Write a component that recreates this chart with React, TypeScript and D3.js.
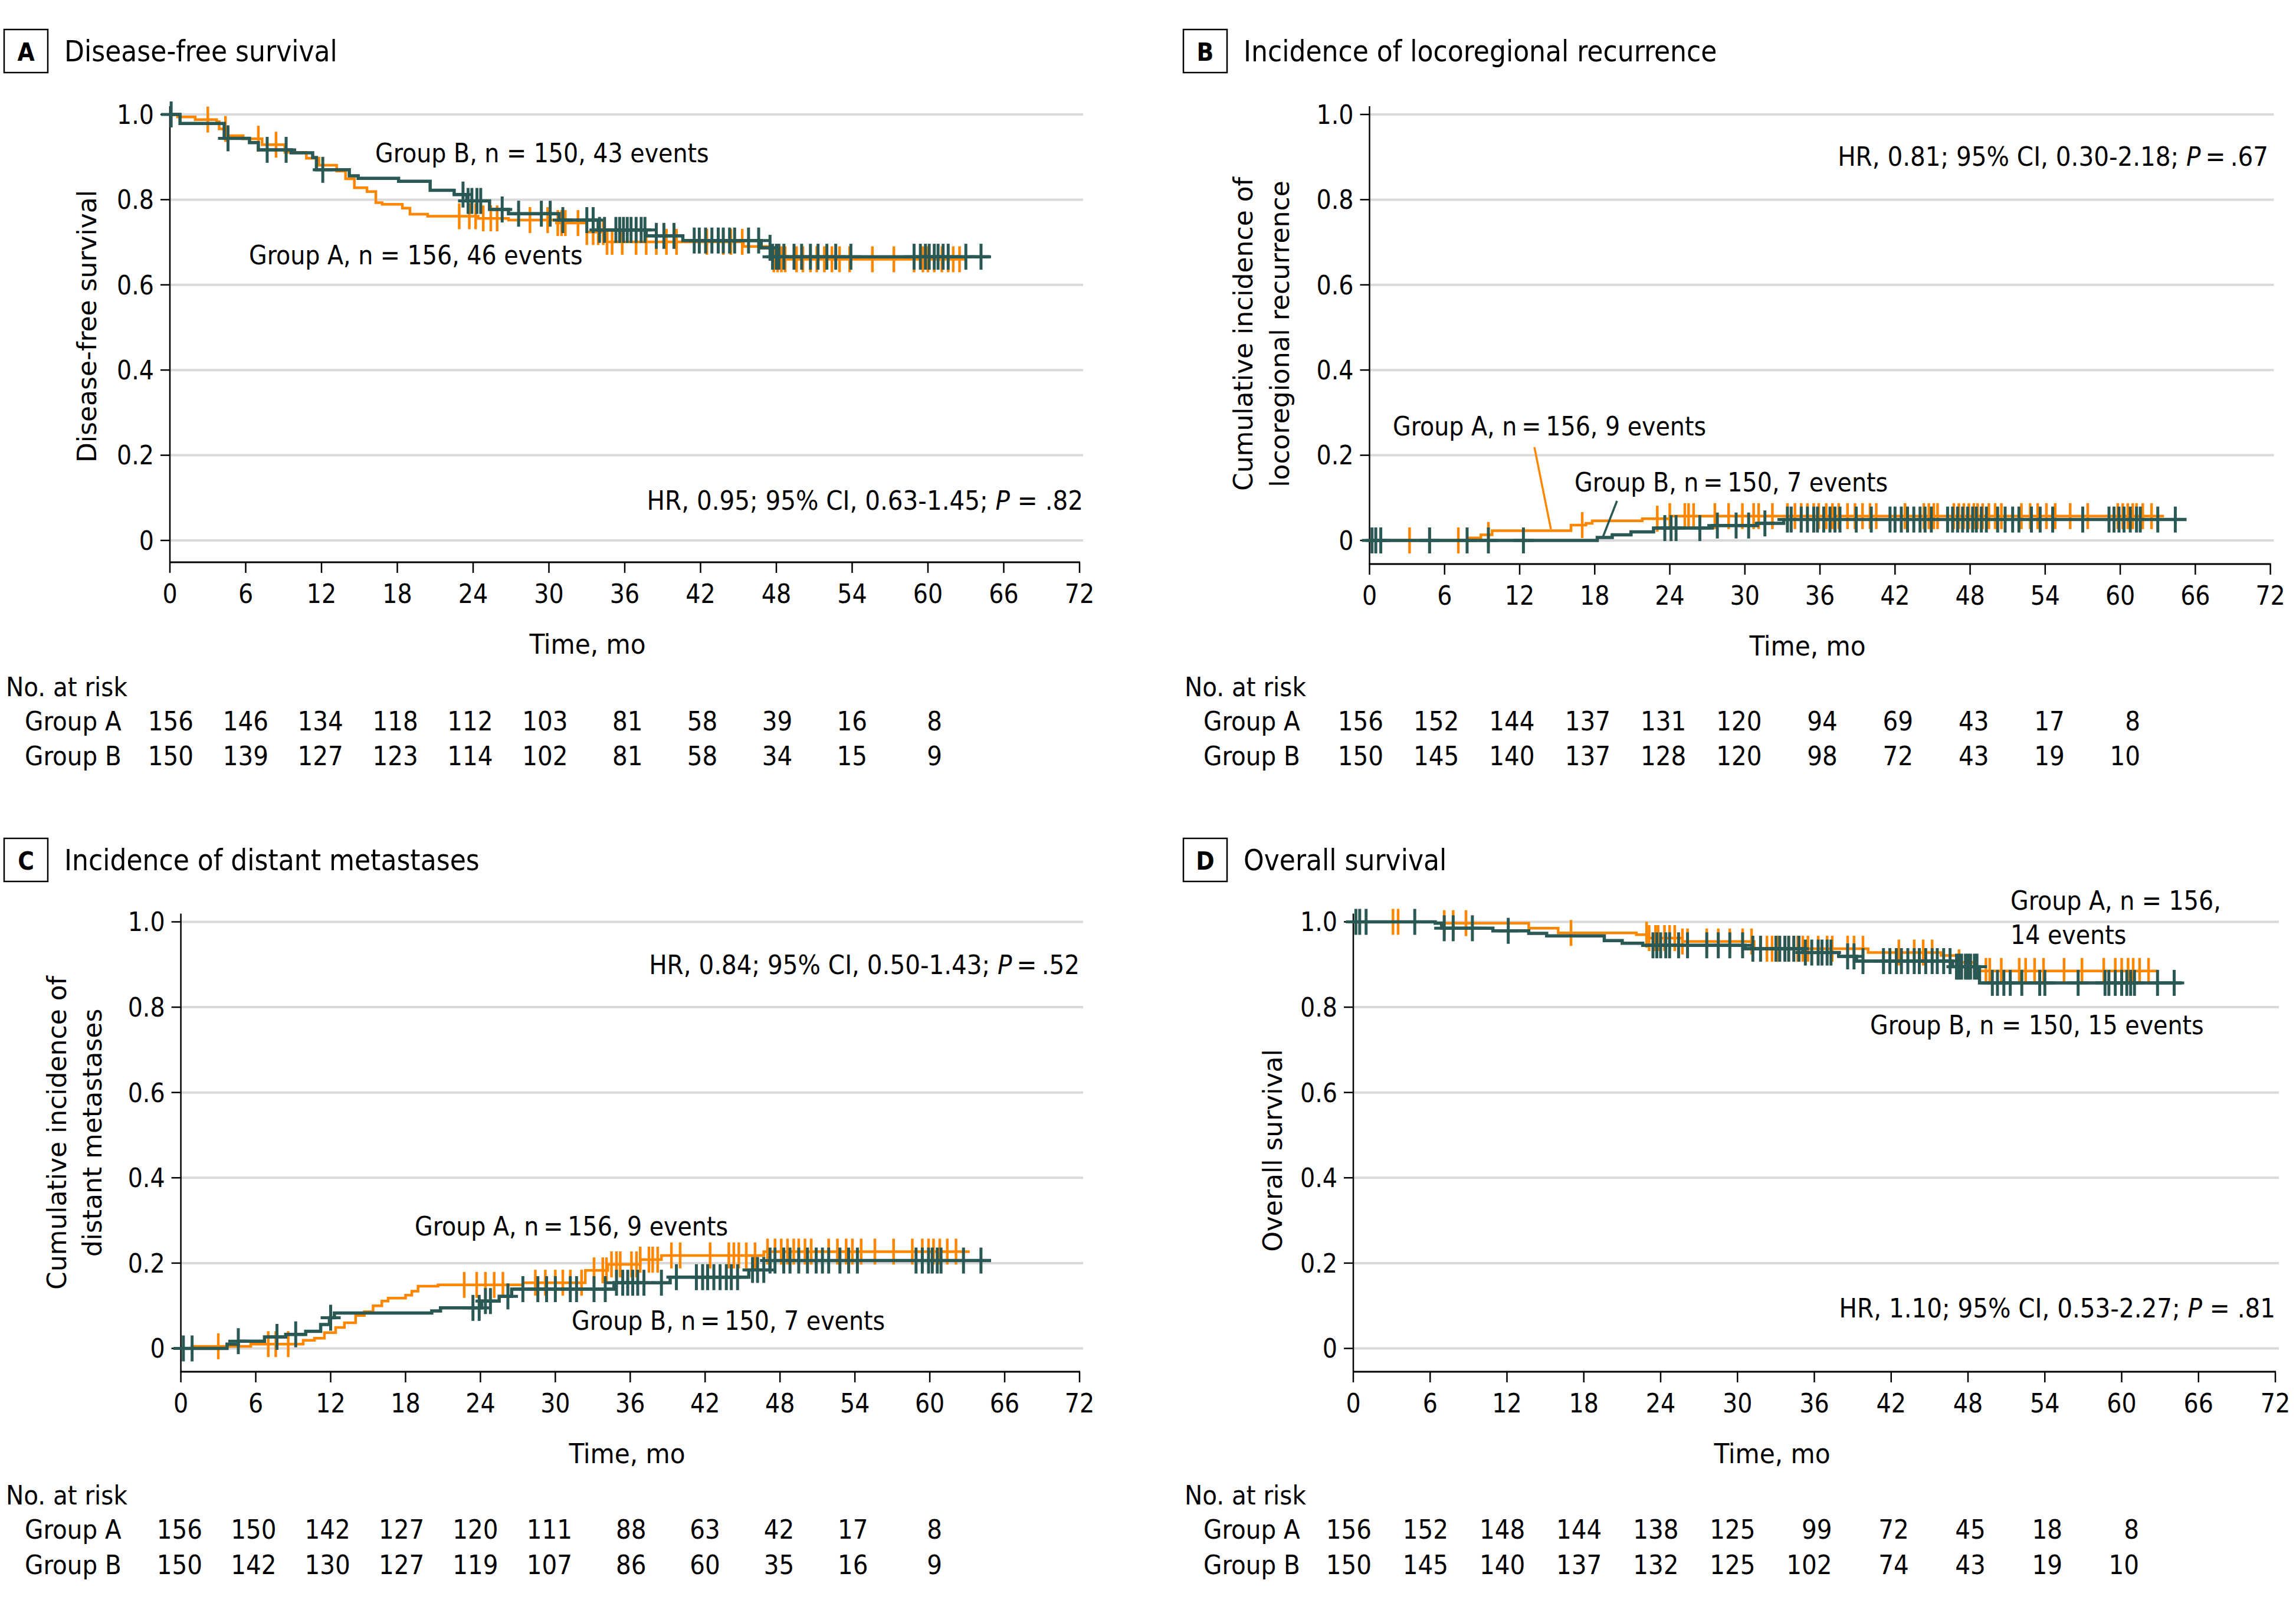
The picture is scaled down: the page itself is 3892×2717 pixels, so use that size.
import React from 'react';
import * as d3 from 'd3';

const W = 3892;
const H = 2717;
const ORANGE = '#ff8700';
const TEAL = '#2a5854';
const GRID = '#d9d9d9';
const COND = "'DejaVu Sans Condensed', 'DejaVu Sans', sans-serif";
const REG = "'DejaVu Sans', sans-serif";

const xTicks = [0, 6, 12, 18, 24, 30, 36, 42, 48, 54, 60, 66, 72];
const yTicks = [0, 0.2, 0.4, 0.6, 0.8, 1.0];
const yTickLabels = ['0', '0.2', '0.4', '0.6', '0.8', '1.0'];
const riskTimes = [0, 6, 12, 18, 24, 30, 36, 42, 48, 54, 60];

// ---------- Panel A: Disease-free survival ----------
const dfsStepsA: [number, number][] = [[0, 1], [0.6, 0.994], [2.0, 0.988], [3.7, 0.983], [3.9, 0.966], [4.6, 0.95], [5.8, 0.943], [7.3, 0.929], [9.1, 0.911], [10.8, 0.897], [11.8, 0.881], [13.2, 0.867], [13.9, 0.849], [14.6, 0.828], [15.6, 0.819], [16.3, 0.793], [16.8, 0.789], [18.4, 0.78], [19.0, 0.766], [20.4, 0.761], [24.4, 0.756], [26.8, 0.752], [30.6, 0.745], [33.0, 0.724], [34.6, 0.701], [45.4, 0.69], [47.7, 0.66]];
const dfsEndA = 63.0;
const dfsCensorA = [3.0, 4.4, 7.0, 8.4, 22.9, 23.7, 24.2, 24.8, 25.4, 25.9, 28.5, 29.9, 30.7, 31.0, 31.3, 32.3, 33.0, 33.5, 33.9, 34.3, 34.6, 35.0, 35.8, 36.9, 37.7, 38.5, 39.3, 40.1, 42.5, 43.8, 44.4, 45.3, 47.8, 48.1, 48.4, 48.7, 49.6, 50.1, 50.7, 51.2, 51.8, 52.4, 53.0, 53.8, 55.6, 57.3, 58.9, 59.6, 60.0, 60.5, 61.1, 61.6, 62.0, 62.5];
const dfsStepsB: [number, number][] = [[0, 1], [0.8, 0.979], [4.3, 0.944], [6.3, 0.934], [7.0, 0.917], [9.6, 0.91], [11.3, 0.899], [11.6, 0.87], [14.2, 0.856], [14.9, 0.85], [18.1, 0.843], [20.6, 0.822], [22.5, 0.812], [23.5, 0.797], [25.3, 0.777], [26.8, 0.767], [30.8, 0.752], [33.9, 0.729], [37.7, 0.715], [40.6, 0.704], [46.8, 0.687], [47.7, 0.666]];
const dfsEndB = 64.9;
const dfsCensorB = [0.1, 4.6, 7.7, 9.2, 12.1, 23.2, 23.6, 23.9, 24.3, 24.6, 26.3, 27.6, 29.4, 30.1, 31.1, 33.0, 33.5, 34.0, 34.4, 35.3, 35.6, 35.9, 36.2, 36.5, 36.9, 37.3, 37.6, 38.5, 39.1, 39.9, 41.5, 41.9, 42.4, 42.9, 43.4, 43.8, 44.3, 44.7, 45.8, 46.6, 47.5, 47.7, 48.0, 48.2, 48.6, 49.4, 50.0, 50.7, 51.3, 52.0, 52.7, 53.9, 58.9, 59.4, 59.8, 60.1, 60.5, 60.8, 61.2, 61.6, 63.0, 64.2];
const dfsRiskA = [156, 146, 134, 118, 112, 103, 81, 58, 39, 16, 8];
const dfsRiskB = [150, 139, 127, 123, 114, 102, 81, 58, 34, 15, 9];

// ---------- Panel B: Locoregional recurrence ----------
const lrrStepsA: [number, number][] = [[0, 0], [7.9, 0.006], [8.9, 0.013], [9.8, 0.023], [16.1, 0.036], [17.3, 0.04], [17.8, 0.046], [21.8, 0.051], [24.0, 0.057]];
const lrrEndA = 63.5;
const lrrCensorA = [3.2, 4.8, 7.1, 9.5, 17.0, 23.0, 24.0, 25.2, 25.5, 25.9, 27.6, 28.7, 29.8, 30.7, 31.1, 32.2, 33.4, 34.0, 34.5, 35.0, 35.5, 35.9, 36.5, 37.0, 37.5, 38.2, 38.8, 39.4, 40.0, 40.5, 42.8, 44.3, 44.7, 45.1, 45.4, 46.7, 47.1, 47.5, 47.9, 48.3, 48.6, 49.0, 49.5, 50.0, 50.5, 52.1, 52.8, 53.4, 54.1, 54.8, 56.0, 57.4, 59.8, 60.2, 60.6, 61.0, 61.3, 61.8, 62.5];
const lrrStepsB: [number, number][] = [[0, 0], [18.2, 0.007], [19.4, 0.013], [20.9, 0.02], [22.7, 0.029], [27.4, 0.035], [31.0, 0.04], [33.1, 0.049]];
const lrrEndB = 65.3;
const lrrCensorB = [0.2, 0.5, 0.9, 4.8, 7.8, 9.5, 12.3, 23.6, 24.1, 24.5, 26.4, 27.8, 29.3, 30.3, 31.6, 33.4, 33.7, 34.5, 35.0, 35.5, 35.8, 36.3, 36.8, 37.2, 37.6, 38.9, 40.1, 41.6, 42.0, 42.5, 43.0, 43.5, 44.0, 44.4, 44.9, 46.2, 46.6, 47.0, 47.4, 47.8, 48.2, 48.5, 48.9, 49.3, 50.2, 50.8, 51.4, 51.9, 52.9, 53.6, 54.6, 57.0, 59.1, 59.5, 59.9, 60.3, 60.8, 61.3, 61.6, 63.0, 64.4];
const lrrRiskA = [156, 152, 144, 137, 131, 120, 94, 69, 43, 17, 8];
const lrrRiskB = [150, 145, 140, 137, 128, 120, 98, 72, 43, 19, 10];

// ---------- Panel C: Distant metastases ----------
const dmStepsA: [number, number][] = [[0, 0], [0.9, 0.005], [5.6, 0.01], [9.8, 0.019], [10.7, 0.024], [11.5, 0.037], [12.4, 0.049], [13.1, 0.06], [14.0, 0.077], [14.7, 0.086], [15.4, 0.1], [16.1, 0.111], [16.6, 0.118], [18.0, 0.125], [18.5, 0.134], [19.0, 0.146], [20.6, 0.149], [27.4, 0.154], [32.4, 0.183], [34.2, 0.197], [36.8, 0.208], [38.5, 0.218], [46.7, 0.227]];
const dmEndA = 63.2;
const dmCensorA = [3.0, 7.0, 7.6, 8.6, 22.7, 23.7, 24.4, 25.1, 25.8, 28.4, 29.2, 30.0, 30.6, 31.2, 32.1, 33.1, 33.8, 34.1, 34.5, 34.9, 35.2, 36.1, 36.5, 36.8, 37.5, 37.8, 38.2, 39.3, 40.0, 42.4, 43.9, 44.3, 44.7, 45.3, 46.0, 47.0, 47.6, 48.1, 48.6, 49.1, 49.5, 50.0, 50.5, 51.9, 52.6, 53.3, 53.8, 54.5, 55.6, 57.1, 58.6, 59.4, 59.9, 60.3, 60.8, 61.4, 62.1];
const dmStepsB: [number, number][] = [[0, 0], [3.7, 0.01], [4.6, 0.017], [6.7, 0.027], [8.4, 0.033], [10.0, 0.04], [11.2, 0.056], [11.9, 0.072], [12.3, 0.083], [20.1, 0.088], [20.8, 0.095], [24.1, 0.111], [25.5, 0.122], [26.5, 0.139], [34.7, 0.154], [39.2, 0.167], [45.5, 0.184], [47.2, 0.206]];
const dmEndB = 64.9;
const dmCensorB = [0.2, 0.9, 4.6, 7.7, 9.2, 12.0, 23.4, 23.9, 24.4, 24.8, 26.2, 27.4, 28.6, 29.3, 30.0, 31.2, 31.7, 33.1, 34.0, 34.9, 35.4, 35.8, 36.2, 36.6, 37.1, 38.5, 39.7, 41.3, 41.8, 42.2, 42.7, 43.2, 43.7, 44.1, 44.6, 45.8, 46.2, 46.7, 47.2, 47.6, 48.3, 48.8, 49.5, 50.2, 50.9, 51.4, 51.9, 52.8, 53.5, 54.2, 58.9, 59.4, 59.9, 60.2, 60.6, 60.9, 62.7, 64.1];
const dmRiskA = [156, 150, 142, 127, 120, 111, 88, 63, 42, 17, 8];
const dmRiskB = [150, 142, 130, 127, 119, 107, 86, 60, 35, 16, 9];

// ---------- Panel D: Overall survival ----------
const osStepsA: [number, number][] = [[0, 1], [6.4, 0.997], [13.7, 0.985], [16.0, 0.974], [22.1, 0.97], [23.0, 0.962], [25.7, 0.954], [31.3, 0.937], [40.2, 0.928], [45.9, 0.921], [47.1, 0.905], [48.5, 0.885]];
const osEndA = 62.8;
const osCensorA = [3.1, 3.5, 7.1, 7.8, 8.8, 17.0, 22.9, 23.1, 23.6, 23.8, 24.3, 24.7, 25.1, 25.7, 26.1, 27.6, 28.5, 29.4, 30.4, 31.1, 31.8, 32.3, 32.7, 33.2, 33.7, 34.0, 34.4, 34.7, 35.1, 35.5, 36.3, 37.0, 37.4, 38.6, 39.1, 39.8, 42.6, 43.8, 44.5, 45.2, 47.3, 49.4, 49.7, 50.6, 52.0, 52.5, 53.2, 53.9, 55.5, 56.9, 58.6, 59.5, 60.0, 60.5, 60.9, 61.4, 62.1];
const osStepsB: [number, number][] = [[0, 1], [6.4, 0.997], [6.9, 0.985], [10.9, 0.979], [13.7, 0.973], [15.1, 0.967], [19.6, 0.956], [21.0, 0.95], [22.6, 0.945], [30.6, 0.937], [35.1, 0.928], [37.9, 0.919], [39.3, 0.908], [46.8, 0.895], [48.9, 0.857]];
const osEndB = 64.7;
const osCensorB = [0.2, 0.5, 1.0, 4.8, 7.1, 7.8, 9.3, 12.1, 23.4, 23.7, 24.0, 24.4, 24.7, 25.4, 26.1, 27.6, 28.5, 29.4, 30.4, 31.2, 31.8, 33.0, 33.3, 33.7, 34.0, 34.4, 34.8, 35.3, 35.8, 36.3, 36.6, 37.0, 37.3, 38.6, 39.1, 39.8, 41.4, 41.9, 42.4, 42.8, 43.3, 43.8, 44.2, 44.7, 45.2, 45.6, 46.1, 46.6, 47.1, 47.3, 47.5, 47.8, 48.0, 48.2, 48.5, 48.7, 49.9, 50.3, 50.8, 51.3, 52.2, 53.6, 54.0, 56.6, 58.7, 59.0, 59.5, 60.0, 60.4, 60.7, 61.0, 62.8, 64.1];
const osRiskA = [156, 152, 148, 144, 138, 125, 99, 72, 45, 18, 8];
const osRiskB = [150, 145, 140, 137, 132, 125, 102, 74, 43, 19, 10];

type Label = { text: string; x: number; y: number };

function stepValue(steps: [number, number][], t: number) {
  let v = steps[0][1];
  for (const [st, sv] of steps) {
    if (st <= t) v = sv;
    else break;
  }
  return v;
}

function Panel({ cfg }: { cfg: any }) {
  const x = d3.scaleLinear().domain([0, 72]).range([cfg.x0, cfg.x1]);
  const y = d3.scaleLinear().domain([0, 1]).range([cfg.y0, cfg.y1]);
  const tx = d3.scaleLinear().domain([0, 60]).range(cfg.tableRange);
  const line = d3
    .line<[number, number]>()
    .x((d) => x(d[0]))
    .y((d) => y(d[1]))
    .curve(d3.curveStepAfter);
  const series = [
    { steps: cfg.stepsA, end: cfg.endA, censor: cfg.censorA, color: ORANGE, width: 4.5, tick: 4.5, plus: false },
    { steps: cfg.stepsB, end: cfg.endB, censor: cfg.censorB, color: TEAL, width: 5.5, tick: 5, plus: true },
  ];
  const boxX = cfg.boxX;
  const boxY = cfg.boxY;
  return (
    <g>
      {/* title */}
      <rect x={boxX} y={boxY} width={74} height={73} fill="none" stroke="#000" strokeWidth={2.5} />
      <text x={boxX + 37} y={boxY + 53} textAnchor="middle" fontFamily={COND} fontWeight="bold" fontSize={42}>
        {cfg.letter}
      </text>
      <text x={cfg.titleX} y={boxY + 54} fontFamily={COND} fontSize={49}>
        {cfg.title}
      </text>
      {/* grid */}
      {yTicks.map((v) => (
        <line key={'g' + v} x1={cfg.x0} x2={cfg.x1 + 6} y1={y(v)} y2={y(v)} stroke={GRID} strokeWidth={4} />
      ))}
      {/* y axis */}
      <line x1={cfg.x0} x2={cfg.x0} y1={y(1) - 14} y2={cfg.axisY} stroke="#000" strokeWidth={2.5} />
      {yTicks.map((v, i) => (
        <g key={'yt' + v}>
          <line x1={cfg.x0 - 16} x2={cfg.x0} y1={y(v)} y2={y(v)} stroke="#000" strokeWidth={2.5} />
          <text x={cfg.x0 - 27} y={y(v)} dy="0.36em" textAnchor="end" fontFamily={COND} fontSize={44}>
            {yTickLabels[i]}
          </text>
        </g>
      ))}
      {/* x axis */}
      <line x1={cfg.x0 - 1} x2={cfg.x1 + 1} y1={cfg.axisY} y2={cfg.axisY} stroke="#000" strokeWidth={3} />
      {xTicks.map((t) => (
        <g key={'xt' + t}>
          <line x1={x(t)} x2={x(t)} y1={cfg.axisY} y2={cfg.axisY + 18} stroke="#000" strokeWidth={2.5} />
          <text x={x(t)} y={cfg.axisY + 69} textAnchor="middle" fontFamily={COND} fontSize={44}>
            {t}
          </text>
        </g>
      ))}
      <text x={cfg.xTitleX} y={cfg.axisY + 155} textAnchor="middle" fontFamily={COND} fontSize={47}>
        Time, mo
      </text>
      {/* y title */}
      {cfg.yTitle.map((ln: string, i: number) => (
        <text
          key={'ytl' + i}
          transform={`translate(${cfg.yTitleX[i]},${cfg.yTitleY}) rotate(-90)`}
          textAnchor="middle"
          dy="0.35em"
          fontFamily={REG}
          fontStretch="normal"
          fontSize={44}
        >
          {ln}
        </text>
      ))}
      {/* curves */}
      {series.map((s, si) => {
        const pts: [number, number][] = [...s.steps, [s.end, s.steps[s.steps.length - 1][1]]];
        return (
          <g key={'s' + si}>
            <path d={line(pts) || ''} fill="none" stroke={s.color} strokeWidth={s.width} />
            {s.censor.map((t: number, ci: number) => {
              const cx = x(t);
              const cy = y(stepValue(s.steps, t));
              return (
                <g key={'c' + ci}>
                  <line x1={cx} x2={cx} y1={cy - 22} y2={cy + 22} stroke={s.color} strokeWidth={s.tick} />
                  {s.plus && <line x1={cx - 17} x2={cx + 17} y1={cy} y2={cy} stroke={s.color} strokeWidth={5} />}
                </g>
              );
            })}
          </g>
        );
      })}
      {/* leader lines */}
      {(cfg.leaders || []).map((l: any, i: number) => (
        <line key={'ld' + i} x1={l.x1} y1={l.y1} x2={l.x2} y2={l.y2} stroke={l.color} strokeWidth={3.5} />
      ))}
      {/* labels */}
      {cfg.labels.map((l: Label, i: number) => (
        <text key={'lb' + i} x={l.x} y={l.y} fontFamily={COND} fontSize={44}>
          {l.text}
        </text>
      ))}
      <text x={cfg.hr.x} y={cfg.hr.y} textAnchor="end" fontFamily={COND} fontSize={45}>
        {cfg.hr.pre}
        <tspan fontStyle="italic">P</tspan>
        {cfg.hr.post}
      </text>
      {/* risk table */}
      <text x={cfg.tableX} y={cfg.tableY[0]} fontFamily={COND} fontSize={45}>
        No. at risk
      </text>
      <text x={cfg.tableX + 32} y={cfg.tableY[1]} fontFamily={COND} fontSize={45}>
        Group A
      </text>
      <text x={cfg.tableX + 32} y={cfg.tableY[2]} fontFamily={COND} fontSize={45}>
        Group B
      </text>
      {riskTimes.map((t, i) => (
        <g key={'rk' + t}>
          <text x={tx(t)} y={cfg.tableY[1]} textAnchor="end" fontFamily={COND} fontSize={45}>
            {cfg.riskA[i]}
          </text>
          <text x={tx(t)} y={cfg.tableY[2]} textAnchor="end" fontFamily={COND} fontSize={45}>
            {cfg.riskB[i]}
          </text>
        </g>
      ))}
    </g>
  );
}

const panelA = {
  letter: 'A', title: 'Disease-free survival', boxX: 7, boxY: 50, titleX: 109,
  x0: 288, x1: 1830, y0: 916, y1: 194, axisY: 953, xTitleX: 996,
  yTitle: ['Disease-free survival'], yTitleX: [148], yTitleY: 553,
  stepsA: dfsStepsA, endA: dfsEndA, censorA: dfsCensorA,
  stepsB: dfsStepsB, endB: dfsEndB, censorB: dfsCensorB,
  labels: [
    { text: 'Group B, n = 150, 43 events', x: 636, y: 275 },
    { text: 'Group A, n = 156, 46 events', x: 422, y: 448 },
  ],
  hr: { x: 1836, y: 864, pre: 'HR, 0.95; 95% CI, 0.63-1.45; ', post: ' = .82' },
  tableX: 10, tableY: [1180, 1238, 1297], tableRange: [328, 1597],
  riskA: dfsRiskA, riskB: dfsRiskB,
};

const panelB = {
  letter: 'B', title: 'Incidence of locoregional recurrence', boxX: 2006, boxY: 50, titleX: 2108,
  x0: 2321.5, x1: 3848.6, y0: 916, y1: 194, axisY: 956, xTitleX: 3064,
  yTitle: ['Cumulative incidence of', 'locoregional recurrence'], yTitleX: [2108, 2170], yTitleY: 566,
  stepsA: lrrStepsA, endA: lrrEndA, censorA: lrrCensorA,
  stepsB: lrrStepsB, endB: lrrEndB, censorB: lrrCensorB,
  labels: [
    { text: 'Group A, n\u2009=\u2009156, 9 events', x: 2361, y: 738 },
    { text: 'Group B, n\u2009=\u2009150, 7 events', x: 2669, y: 833 },
  ],
  leaders: [
    { x1: 2601, y1: 758, x2: 2629, y2: 897, color: ORANGE },
    { x1: 2741, y1: 849, x2: 2716, y2: 913, color: TEAL },
  ],
  hr: { x: 3845, y: 281, pre: 'HR, 0.81; 95% CI, 0.30-2.18; ', post: '\u2009=\u2009.67' },
  tableX: 2008, tableY: [1180, 1238, 1297], tableRange: [2345, 3628],
  riskA: lrrRiskA, riskB: lrrRiskB,
};

const panelC = {
  letter: 'C', title: 'Incidence of distant metastases', boxX: 7, boxY: 1421, titleX: 109,
  x0: 306.6, x1: 1830, y0: 2285.5, y1: 1562.5, axisY: 2325, xTitleX: 1063,
  yTitle: ['Cumulative incidence of', 'distant metastases'], yTitleX: [97, 157], yTitleY: 1920,
  stepsA: dmStepsA, endA: dmEndA, censorA: dmCensorA,
  stepsB: dmStepsB, endB: dmEndB, censorB: dmCensorB,
  labels: [
    { text: 'Group A, n\u2009=\u2009156, 9 events', x: 703, y: 2094 },
    { text: 'Group B, n\u2009=\u2009150, 7 events', x: 969, y: 2254 },
  ],
  hr: { x: 1830, y: 1651, pre: 'HR, 0.84; 95% CI, 0.50-1.43; ', post: '\u2009=\u2009.52' },
  tableX: 10, tableY: [2550, 2608, 2667.5], tableRange: [343, 1597],
  riskA: dmRiskA, riskB: dmRiskB,
};

const panelD = {
  letter: 'D', title: 'Overall survival', boxX: 2006, boxY: 1421, titleX: 2108,
  x0: 2294, x1: 3857, y0: 2285.5, y1: 1562.5, axisY: 2325, xTitleX: 3004,
  yTitle: ['Overall survival'], yTitleX: [2158], yTitleY: 1950,
  stepsA: osStepsA, endA: osEndA, censorA: osCensorA,
  stepsB: osStepsB, endB: osEndB, censorB: osCensorB,
  labels: [
    { text: 'Group A, n = 156,', x: 3408, y: 1542 },
    { text: '14 events', x: 3408, y: 1600 },
    { text: 'Group B, n = 150, 15 events', x: 3170, y: 1753 },
  ],
  hr: { x: 3857, y: 2233, pre: 'HR, 1.10; 95% CI, 0.53-2.27; ', post: ' = .81' },
  tableX: 2008, tableY: [2550, 2608, 2667.5], tableRange: [2325, 3626],
  riskA: osRiskA, riskB: osRiskB,
};

export default function App() {
  return (
    <svg
      width={W}
      height={H}
      viewBox={`0 0 ${W} ${H}`}
      style={{ position: 'absolute', left: 0, top: 0, display: 'block', background: '#fff' }}
    >
      <rect x={0} y={0} width={W} height={H} fill="#fff" />
      <g fontStretch="condensed">
        <Panel cfg={panelA} />
        <Panel cfg={panelB} />
        <Panel cfg={panelC} />
        <Panel cfg={panelD} />
      </g>
    </svg>
  );
}
